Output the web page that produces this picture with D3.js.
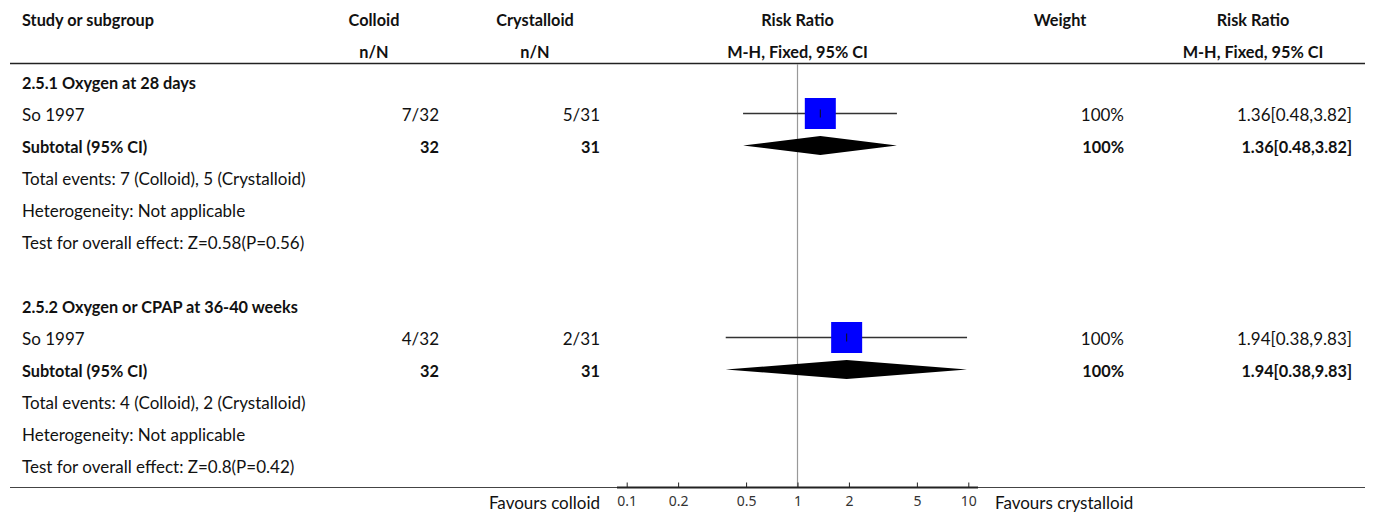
<!DOCTYPE html>
<html>
<head>
<meta charset="utf-8">
<script src="https://cdn.jsdelivr.net/npm/d3@7"></script>
<style>
  body { margin: 0; background: #fff; }
  svg text { font-family: Lato, "Noto Sans", sans-serif; fill: #111; }
  .b { font-weight: bold; }
</style>
</head>
<body>
<div id="chart"></div>
<script>
// forest plot data
var subgroups = ["2.5.1 Oxygen at 28 days", "2.5.2 Oxygen or CPAP at 36-40 weeks"];
var studies = ["So 1997", "So 1997"];
var colloidEvents = [7, 4];
var colloidTotal = [32, 32];
var crystEvents = [5, 2];
var crystTotal = [31, 31];
var riskRatio = [1.36, 1.94];
var ciLow = [0.48, 0.38];
var ciHigh = [3.82, 9.83];
var weights = [100, 100];
var heterogeneity = ["Not applicable", "Not applicable"];
var zValues = ["0.58", "0.8"];
var pValues = ["0.56", "0.42"];
var axisTicks = [0.1, 0.2, 0.5, 1, 2, 5, 10];

var width = 1373, height = 517;
var fs = 17, fsb = 16.3;   // normal / bold size

var svg = d3.select("#chart")
    .append("svg")
    .attr("width", width)
    .attr("height", height);

// row positions (13 rows, row 6 blank)
var y = d3.scaleLinear().domain([0, 12]).range([83, 467]);
var x = d3.scaleLog().domain([0.1, 10]).range([626.7, 968.3]);

// column anchors
var col = { name: 22, c1: 439, c2: 600, w: 1124, rr: 1352 };

function txt(xp, yp, s, anchor, bold) {
    var size = bold ? fsb : fs;
    svg.append("text")
        .attr("x", xp)
        .attr("y", yp + size * 0.34)
        .attr("text-anchor", anchor || "start")
        .attr("class", bold ? "b" : null)
        .style("font-size", size + "px")
        .text(s);
}

// header
txt(col.name, 20, "Study or subgroup", "start", true);
txt(374, 20, "Colloid", "middle", true);
txt(374, 52, "n/N", "middle", true);
txt(535, 20, "Crystalloid", "middle", true);
txt(535, 52, "n/N", "middle", true);
txt(797.5, 20, "Risk Ratio", "middle", true);
txt(797.5, 52, "M-H, Fixed, 95% CI", "middle", true);
txt(1060, 20, "Weight", "middle", true);
txt(1253, 20, "Risk Ratio", "middle", true);
txt(1253, 52, "M-H, Fixed, 95% CI", "middle", true);

svg.append("line")
    .attr("x1", 10).attr("x2", 1365)
    .attr("y1", 63.5).attr("y2", 63.5)
    .attr("stroke", "#222").attr("stroke-width", 1.5);

// null line
svg.append("line")
    .attr("x1", x(1)).attr("x2", x(1))
    .attr("y1", 64).attr("y2", 487)
    .attr("stroke", "#999").attr("stroke-width", 1.2);

function fmt(i) {
    return riskRatio[i].toFixed(2) + "[" + ciLow[i].toFixed(2) + "," + ciHigh[i].toFixed(2) + "]";
}

subgroups.forEach(function (g, i) {
    var r0 = i * 7;
    txt(col.name, y(r0), g, "start", true);

    // study row
    var ys = y(r0 + 1);
    txt(col.name, ys, studies[i]);
    txt(col.c1, ys, colloidEvents[i] + "/" + colloidTotal[i], "end");
    txt(col.c2, ys, crystEvents[i] + "/" + crystTotal[i], "end");
    txt(col.w, ys, weights[i] + "%", "end");
    txt(col.rr, ys, fmt(i), "end");

    var ym = ys - 1.5;
    svg.append("line")
        .attr("x1", x(ciLow[i])).attr("x2", x(ciHigh[i]))
        .attr("y1", ym).attr("y2", ym)
        .attr("stroke", "#333").attr("stroke-width", 1.5);
    var sz = 31 * Math.sqrt(weights[i] / 100);
    svg.append("rect")
        .attr("x", x(riskRatio[i]) - sz / 2)
        .attr("y", ym - sz / 2)
        .attr("width", sz).attr("height", sz)
        .attr("fill", "#0000ff");
    svg.append("line")
        .attr("x1", x(riskRatio[i])).attr("x2", x(riskRatio[i]))
        .attr("y1", ym - 4).attr("y2", ym + 4)
        .attr("stroke", "#111").attr("stroke-width", 1);

    // subtotal row
    var yt = y(r0 + 2);
    txt(col.name, yt, "Subtotal (95% CI)", "start", true);
    txt(col.c1, yt, colloidTotal[i], "end", true);
    txt(col.c2, yt, crystTotal[i], "end", true);
    txt(col.w, yt, weights[i] + "%", "end", true);
    txt(col.rr, yt, fmt(i), "end", true);

    var yd = yt - 1.5;
    var pts = [[x(ciLow[i]), yd], [x(riskRatio[i]), yd - 9.5], [x(ciHigh[i]), yd], [x(riskRatio[i]), yd + 9.5]];
    svg.append("polygon")
        .attr("points", pts.map(function (p) { return p.join(","); }).join(" "))
        .attr("fill", "#000");

    txt(col.name, y(r0 + 3), "Total events: " + colloidEvents[i] + " (Colloid), " + crystEvents[i] + " (Crystalloid)");
    txt(col.name, y(r0 + 4), "Heterogeneity: " + heterogeneity[i]);
    txt(col.name, y(r0 + 5), "Test for overall effect: Z=" + zValues[i] + "(P=" + pValues[i] + ")");
});

// bottom line and axis
var axisY = 487.5;
svg.append("line")
    .attr("x1", 10).attr("x2", 1365)
    .attr("y1", axisY).attr("y2", axisY)
    .attr("stroke", "#444").attr("stroke-width", 1);

var ax = svg.append("g")
    .attr("transform", "translate(0," + axisY + ")")
    .call(d3.axisBottom(x)
        .tickValues(axisTicks)
        .tickFormat(d3.format("~g"))
        .tickSize(-5)
        .tickSizeOuter(0)
        .tickPadding(9));
ax.attr("font-size", 14).attr("font-family", "'Noto Sans', sans-serif");
ax.select(".domain").remove();
ax.selectAll(".tick line").attr("stroke", "#222");
ax.selectAll(".tick text")
    .style("font-family", "'Noto Sans', sans-serif")
    .style("font-size", "14px")
    .style("fill", "#333");

svg.append("line")
    .attr("x1", 617).attr("x2", 978)
    .attr("y1", axisY).attr("y2", axisY)
    .attr("stroke", "#222").attr("stroke-width", 2);

txt(600, 503, "Favours colloid", "end");
txt(995, 503, "Favours crystalloid", "start");
</script>
</body>
</html>
